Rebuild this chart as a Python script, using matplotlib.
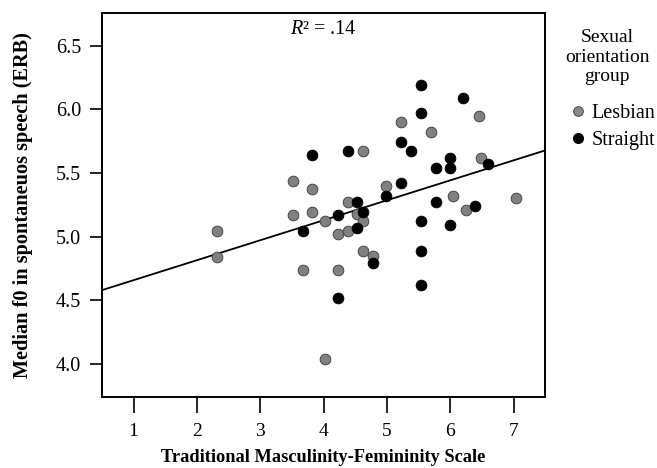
import matplotlib
matplotlib.use("Agg")
import matplotlib.pyplot as plt
from matplotlib.lines import Line2D

plt.rcParams['font.family'] = ['Liberation Serif', 'DejaVu Serif']
plt.rcParams['mathtext.fontset'] = 'custom'
plt.rcParams['mathtext.rm'] = 'Liberation Serif'
plt.rcParams['mathtext.it'] = 'Liberation Serif:italic'

# Traditional M-F scale scores and median f0 (ERB)
lesbian_x = [2.32, 2.32, 3.52, 3.52, 3.68, 3.82, 3.82, 4.02, 4.03, 4.22, 4.22, 4.38, 4.38,
             4.53, 4.63, 4.63, 4.63, 4.78, 4.98, 5.23, 5.69, 6.04, 6.25, 6.46, 6.48, 7.04]
lesbian_y = [5.04, 4.84, 5.44, 5.17, 4.74, 5.37, 5.19, 5.12, 4.04, 5.02, 4.74, 5.27, 5.04,
             5.18, 5.67, 5.12, 4.89, 4.85, 5.40, 5.90, 5.82, 5.32, 5.21, 5.95, 5.62, 5.30]

straight_x = [3.68, 3.82, 4.22, 4.22, 4.38, 4.53, 4.53, 4.63, 4.78, 4.98, 5.23, 5.23, 5.38,
              5.53, 5.53, 5.53, 5.53, 5.53, 5.78, 5.78, 5.99, 5.99, 5.99, 6.20, 6.39, 6.60]
straight_y = [5.04, 5.64, 5.17, 4.52, 5.67, 5.27, 5.07, 5.19, 4.79, 5.32, 5.74, 5.42, 5.67,
              6.19, 5.97, 5.12, 4.89, 4.62, 5.54, 5.27, 5.62, 5.54, 5.09, 6.09, 5.24, 5.57]

# fit line
fit_intercept = 4.50
fit_slope = 0.157
r_squared = ".14"

xticks = [1, 2, 3, 4, 5, 6, 7]
yticks = [4.0, 4.5, 5.0, 5.5, 6.0, 6.5]

fig = plt.figure(figsize=(6.57, 4.68), dpi=100)
ax = fig.add_axes([0.155, 0.152, 0.675, 0.821])

ax.scatter(lesbian_x, lesbian_y, s=60, color='#808080', edgecolors='#3a3a3a',
           linewidths=0.6, zorder=3)
ax.scatter(straight_x, straight_y, s=60, color='black', edgecolors='black',
           linewidths=0.6, zorder=3)

xlim = (0.5, 7.5)
ax.plot(xlim, [fit_intercept + fit_slope * x for x in xlim], color='black',
        linewidth=1.3, zorder=2)

ax.set_xlim(*xlim)
ax.set_ylim(3.74, 6.76)
ax.set_xticks(xticks)
ax.set_yticks(yticks)
ax.set_yticklabels([f'{v:.1f}' for v in yticks])

for spine in ax.spines.values():
    spine.set_linewidth(1.4)
ax.tick_params(axis='x', length=11.5, width=1.2, labelsize=14, pad=7)
ax.tick_params(axis='y', length=9, width=1.2, labelsize=14.5, pad=6)

ax.set_xlabel('Traditional Masculinity-Femininity Scale', fontsize=13.2,
              fontweight='bold')
ax.set_ylabel('Median f0 in spontaneuos speech (ERB)', fontsize=14.6,
              fontweight='bold')
ax.xaxis.set_label_coords(0.5, -0.135)
ax.yaxis.set_label_coords(-0.155, 0.5)

ax.text(0.5, 0.955, r'$\mathit{R}$² = ' + r_squared, transform=ax.transAxes,
        ha='center', va='center', fontsize=14.5)

# legend title drawn separately so its spacing can follow the reference
fig.text(0.924, 0.878, 'Sexual\norientation\ngroup', ha='center', va='center',
         multialignment='center', fontsize=14, linespacing=1.2)

handles = [
    Line2D([], [], marker='o', linestyle='none', markersize=7,
           markerfacecolor='#888888', markeredgecolor='#3a3a3a', markeredgewidth=0.6),
    Line2D([], [], marker='o', linestyle='none', markersize=7,
           markerfacecolor='black', markeredgecolor='black'),
]
fig.legend(handles, ['Lesbian', 'Straight'], loc='center left',
           bbox_to_anchor=(0.864, 0.728), frameon=False, fontsize=14.5,
           handletextpad=0.2, handlelength=1.0, labelspacing=0.4,
           borderpad=0, borderaxespad=0)

fig.savefig('out.png', dpi=100)
